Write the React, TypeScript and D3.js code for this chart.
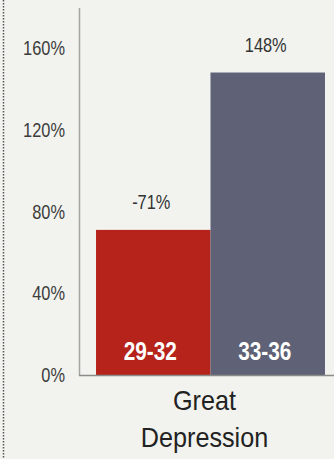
import React from "react";
import * as d3 from "d3";

const categories = ["29-32", "33-36"];
const values = [71, 148];
const valueLabels = ["-71%", "148%"];
const barColors = ["#b5231a", "#5f6176"];
const yTicks = [0, 40, 80, 120, 160];
const groupLabel = ["Great", "Depression"];

const W = 334;
const H = 459;
const SANS = "'Liberation Sans', Arial, sans-serif";

function Narrow(props: { x: number; y: number; sx?: number; anchor?: string; size: number; weight?: string; fill: string; dy?: string; children: React.ReactNode }) {
  const sx = props.sx ?? 0.82;
  return (
    <text
      transform={`translate(${props.x},${props.y}) scale(${sx},1)`}
      dy={props.dy}
      textAnchor={props.anchor ?? "middle"}
      fontFamily={SANS}
      fontSize={props.size}
      fontWeight={props.weight}
      fill={props.fill}
    >
      {props.children}
    </text>
  );
}

export default function App() {
  const x = d3.scaleBand<string>().domain(categories).range([80, 341]).paddingInner(0).paddingOuter(0.14);
  const y = d3.scaleLinear().domain([0, 160]).range([375, 48]);
  const cx = (x(categories[0])! + x(categories[1])! + x.bandwidth()) / 2;

  return (
    <div style={{ position: "absolute", left: 0, top: 0 }}>
      <svg width={W} height={H} style={{ display: "block" }}>
        <rect x={0} y={0} width={W} height={H} fill="#f2f3ee" />
        <line x1={3.5} x2={3.5} y1={0} y2={H} stroke="#555" strokeWidth={1.5} strokeDasharray="1.5,1.5" />
        {yTicks.map((t) => (
          <Narrow key={t} x={65} y={y(t)} dy="0.36em" anchor="end" size={20} fill="#3c3c3c">
            {t}%
          </Narrow>
        ))}
        {categories.map((c, i) => (
          <g key={c}>
            <rect x={x(c)} y={y(values[i])} width={x.bandwidth()} height={y(0) - y(values[i])} fill={barColors[i]} />
            <Narrow x={x(c)! + x.bandwidth() / 2 - 2} y={y(values[i]) - 21} size={20} fill="#333">
              {valueLabels[i]}
            </Narrow>
            <Narrow x={x(c)! + x.bandwidth() / 2 - 3} y={360} size={26} weight="bold" sx={0.8} fill="#fff">
              {c}
            </Narrow>
          </g>
        ))}
        <line x1={79.5} x2={79.5} y1={8} y2={375.5} stroke="#a2a5a2" strokeWidth={1.5} />
        <line x1={79} x2={W} y1={375.5} y2={375.5} stroke="#8a8c8a" strokeWidth={1.5} />
        <Narrow x={cx - 6} y={410} size={28} sx={0.9} fill="#222">
          {groupLabel[0]}
        </Narrow>
        <Narrow x={cx - 6} y={447} size={28} sx={0.9} fill="#222">
          {groupLabel[1]}
        </Narrow>
      </svg>
    </div>
  );
}
